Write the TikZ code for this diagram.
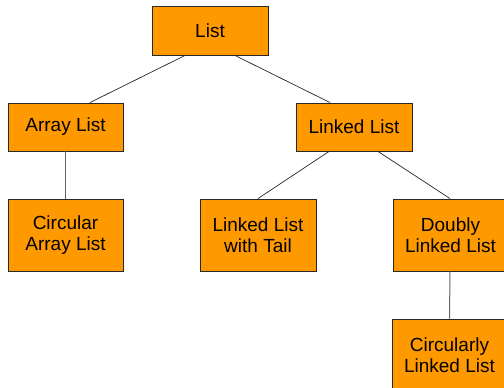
\documentclass[tikz,border=0pt]{standalone}
\usepackage{fontspec}
\setmainfont{Liberation Sans}
\usetikzlibrary{calc}
\definecolor{boxfill}{RGB}{255,153,0}
\definecolor{boxline}{RGB}{40,40,40}
\definecolor{stem}{RGB}{100,100,100}
\tikzset{
  classbox/.style={draw=boxline, line width=0.9pt, fill=boxfill, inner sep=0pt,
    minimum width=115pt, align=center,
    font=\fontsize{19}{20.5}\selectfont},
  single/.style={classbox, minimum height=48pt},
  double/.style={classbox, minimum height=72pt},
  branch/.style={draw=black!85, line width=0.7pt},
  stemline/.style={draw=stem, line width=1pt}
}
\begin{document}
\begin{tikzpicture}[x=1pt,y=-1pt]
  \useasboundingbox (0,0) rectangle (504,388);
  % tree of list implementations
  \node[single, minimum width=116pt, minimum height=49pt] (list) at (210,30.5) {List};
  \node[single] (array) at (65.5,127) {Array List};
  \node[single, minimum width=116pt] (linked) at (354,127) {Linked List};
  \node[double] (circarray) at (65.5,235) {Circular\\Array List};
  \node[double, minimum width=116pt] (tail) at (258,235) {Linked List\\with Tail};
  \node[double] (doubly) at (450.5,235) {Doubly\\Linked List};
  \node[double] (circlinked) at (449.5,355) {Circularly\\Linked List};
  % connectors
  \draw[branch] ($(list.south)+(-25,0)$) -- ($(array.north)+(24.5,0)$);
  \draw[branch] ($(list.south)+(25,0)$) -- ($(linked.north)+(-24,0)$);
  \draw[branch] ($(linked.south)+(-25,0)$) -- (tail.north);
  \draw[branch] ($(linked.south)+(24,0)$) -- ($(doubly.north)+(-0.5,0)$);
  \draw[stemline] (array.south) -- (circarray.north);
  \draw[stemline] ($(doubly.south)+(-0.5,0)$) -- (circlinked.north);
\end{tikzpicture}
\end{document}
